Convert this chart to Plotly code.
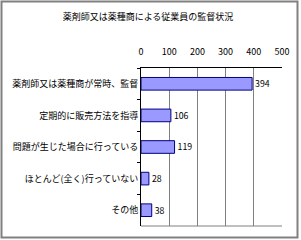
import plotly.graph_objects as go

categories = ["薬剤師又は薬種商が常時、監督", "定期的に販売方法を指導", "問題が生じた場合に行っている", "ほとんど(全く)行っていない", "その他"]
values = [394, 106, 119, 28, 38]
x_ticks = [0, 100, 200, 300, 400, 500]
title_text = "薬剤師又は薬種商による従業員の監督状況"

FONT = "Noto Sans CJK JP"
L, R, T, B = 141, 19, 68, 14
W, H = 301, 240
pw, ph = W - L - R, H - T - B

fig = go.Figure(go.Bar(
    y=categories, x=values, orientation="h",
    marker=dict(color="#9999FF", line=dict(color="#000080", width=1)),
    text=[str(v) for v in values], textposition="outside",
    textfont=dict(family=FONT, size=9, color="#000000"),
    cliponaxis=False,
))

def px2paper_x(px):
    return (px - L) / pw

def px2paper_y(py):
    return (H - B - py) / ph

fig.add_shape(type="rect", xref="paper", yref="paper",
              x0=px2paper_x(1.5), x1=px2paper_x(297.5),
              y0=px2paper_y(237.5), y1=px2paper_y(1.5),
              line=dict(color="#808080", width=2), layer="above")
# plot area bottom line
fig.add_shape(type="line", xref="paper", yref="paper", x0=0, x1=1, y0=0, y1=0,
              line=dict(color="#808080", width=1))

fig.update_layout(
    width=W, height=H,
    margin=dict(l=L, r=R, t=T, b=B),
    paper_bgcolor="white", plot_bgcolor="white",
    showlegend=False,
    bargap=0.6,
    title=dict(text=title_text, x=148 / W, xref="container", xanchor="center",
               y=1 - 17 / H, yref="container", yanchor="middle",
               font=dict(family=FONT, size=9, color="#000000")),
    font=dict(family=FONT, size=9, color="#000000"),
    xaxis=dict(side="top", range=[0, 500], tickvals=x_ticks,
               showgrid=True, gridcolor="#808080", gridwidth=1,
               showline=True, linecolor="#000000", linewidth=1,
               ticks="", ticklabelstandoff=8, zeroline=False,
               tickfont=dict(family=FONT, size=9, color="#000000"),
               fixedrange=True),
    yaxis=dict(autorange="reversed", type="category",
               showline=True, linecolor="#000000", linewidth=1,
               ticks="outside", ticklen=3, tickcolor="#000000",
               tickson="boundaries", showgrid=False,
               tickfont=dict(family=FONT, size=9, color="#000000"),
               fixedrange=True),
)

fig.write_html("out.html")
